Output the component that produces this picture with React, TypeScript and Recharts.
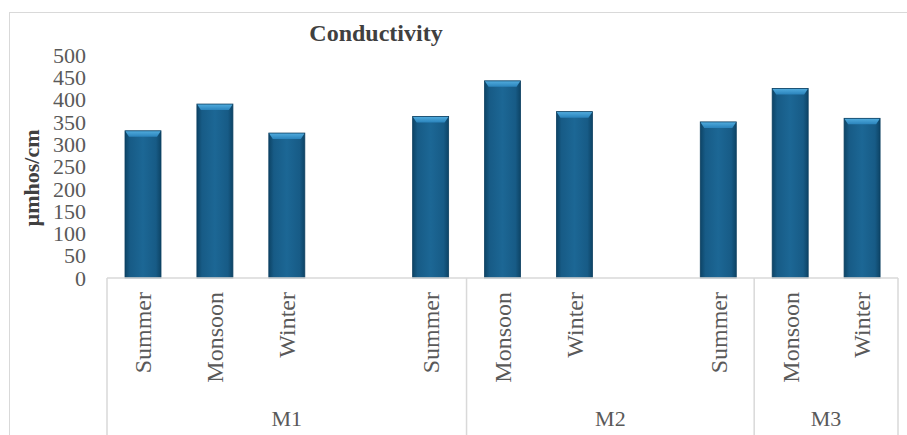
import { Bar, BarChart, XAxis, YAxis } from "recharts";

// seasons per slot; blank slots keep the gaps between sampling sites
const seasons = [
  "Summer", "Monsoon", "Winter", "",
  "Summer", "Monsoon", "Winter", "",
  "Summer", "Monsoon", "Winter",
];
const conductivity = [330, 390, 325, null, 362, 442, 373, null, 350, 425, 358];

// site labels and how many slots each one spans on the axis
const sites = ["M1", "M2", "M3"];
const siteSpans = [5, 4, 2];

const yTicks = [0, 50, 100, 150, 200, 250, 300, 350, 400, 450, 500];

const data = seasons.map((season, i) => ({
  slot: i,
  season,
  value: conductivity[i],
}));

const siteStarts: number[] = [];
siteSpans.reduce((start, span) => {
  siteStarts.push(start);
  return start + span;
}, 0);

const FONT = "'Liberation Serif', 'Times New Roman', serif";
const TEXT = "#595959";
const LINE = "#d9d9d9";

function YTick(props: any) {
  const { x, y, payload } = props;
  return (
    <text x={x} y={y} dy="0.35em" textAnchor="end" fontFamily={FONT} fontSize={22} fill={TEXT}>
      {payload.value}
    </text>
  );
}

function XTick(props: any) {
  const { x, y, payload, index } = props;
  const half = payload.offset || 36;
  const label = seasons[index];
  const siteIdx = siteStarts.indexOf(index);
  const isLast = index === seasons.length - 1;
  return (
    <g>
      {label && (
        <text
          x={x}
          y={y + 14}
          dy="0.35em"
          textAnchor="end"
          transform={`rotate(-90 ${x} ${y + 14})`}
          fontFamily={FONT}
          fontSize={24}
          fill={TEXT}
        >
          {label}
        </text>
      )}
      {siteIdx >= 0 && (
        <>
          <line x1={x - half} x2={x - half} y1={y} y2={y + 157} stroke={LINE} strokeWidth={1.5} />
          <text
            x={x - half + siteSpans[siteIdx] * half}
            y={y + 140}
            dominantBaseline="central"
            textAnchor="middle"
            fontFamily={FONT}
            fontSize={22}
            fill={TEXT}
          >
            {sites[siteIdx]}
          </text>
        </>
      )}
      {isLast && (
        <line x1={x + half} x2={x + half} y1={y} y2={y + 157} stroke={LINE} strokeWidth={1.5} />
      )}
    </g>
  );
}

// column with a darker rim and a chamfered light top
function BevelBar(props: any) {
  const { x, y, width, height } = props;
  if (!height || height <= 0) return null;
  const b = Math.min(6, height);
  const inset = 4;
  return (
    <g>
      <rect x={x} y={y} width={width} height={height} fill="url(#barBody)" />
      <polygon
        points={`${x},${y} ${x + width},${y} ${x + width - inset},${y + b} ${x + inset},${y + b}`}
        fill="url(#barTop)"
      />
      <rect x={x} y={y} width={width} height={height} fill="none" stroke="#0c3f60" strokeWidth={0.8} />
    </g>
  );
}

export default function App() {
  return (
    <div
      style={{
        position: "absolute",
        left: 0,
        top: 0,
        width: 907,
        height: 435,
        overflow: "hidden",
        background: "#fff",
      }}
    >
      <div
        style={{
          position: "absolute",
          left: 9,
          top: 12,
          width: 940,
          height: 460,
          border: `1px solid ${LINE}`,
        }}
      />
      <div style={{ position: "absolute", left: 0, top: 0 }}>
        <BarChart
          width={907}
          height={435}
          data={data}
          margin={{ top: 55, right: 9, left: 0, bottom: 0 }}
        >
          <defs>
            <linearGradient id="barBody" x1="0" y1="0" x2="1" y2="0">
              <stop offset="0%" stopColor="#0d4466" />
              <stop offset="14%" stopColor="#175b86" />
              <stop offset="50%" stopColor="#1c6795" />
              <stop offset="86%" stopColor="#175b86" />
              <stop offset="100%" stopColor="#0d4466" />
            </linearGradient>
            <linearGradient id="barTop" x1="0" y1="0" x2="0" y2="1">
              <stop offset="0%" stopColor="#52addf" />
              <stop offset="100%" stopColor="#2a83bb" />
            </linearGradient>
          </defs>
          <XAxis
            dataKey="slot"
            type="category"
            height={157}
            interval={0}
            tickLine={false}
            tickSize={0}
            tickMargin={0}
            axisLine={{ stroke: LINE, strokeWidth: 1.5 }}
            tick={<XTick />}
          />
          <YAxis
            width={107}
            domain={[0, 500]}
            ticks={yTicks}
            interval={0}
            axisLine={false}
            tickLine={false}
            tickSize={0}
            tickMargin={21}
            tick={<YTick />}
          />
          <Bar dataKey="value" barSize={36} shape={<BevelBar />} isAnimationActive={false} />
        </BarChart>
      </div>
      <svg
        width={907}
        height={435}
        style={{ position: "absolute", left: 0, top: 0, pointerEvents: "none" }}
      >
        <text
          x={376}
          y={33}
          dominantBaseline="central"
          textAnchor="middle"
          fontFamily={FONT}
          fontSize={24}
          fontWeight="bold"
          fill="#404040"
        >
          Conductivity
        </text>
        <text
          x={31.5}
          y={178}
          dominantBaseline="central"
          textAnchor="middle"
          transform="rotate(-90 31.5 178)"
          fontFamily={FONT}
          fontSize={22}
          fontWeight="bold"
          fill="#404040"
        >
          µmhos/cm
        </text>
      </svg>
    </div>
  );
}
